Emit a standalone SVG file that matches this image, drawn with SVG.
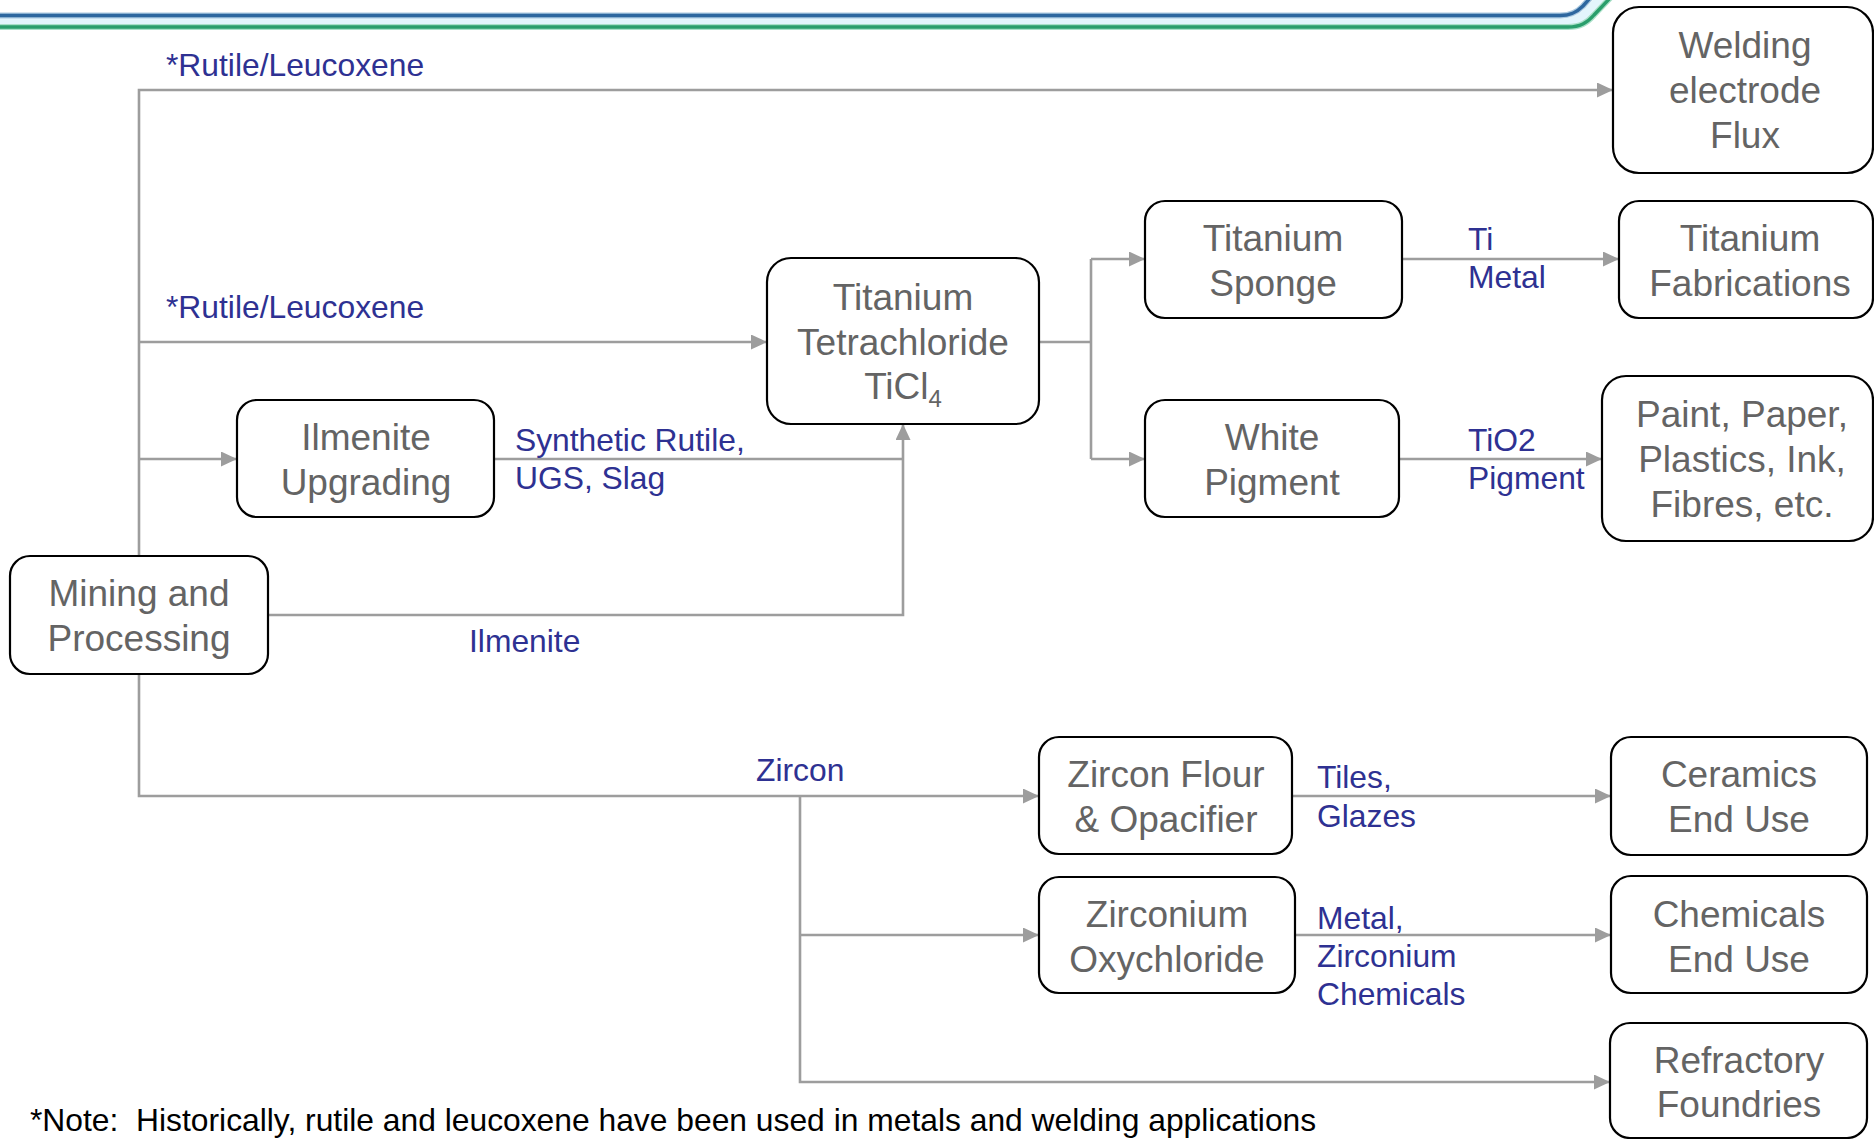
<svg xmlns="http://www.w3.org/2000/svg" width="1874" height="1139" viewBox="0 0 1874 1139">
<style>
.node rect{fill:#fff;stroke:#000;stroke-width:2.2}
.nt{font-family:"Liberation Sans",Arial,sans-serif;font-size:37px;fill:#646464;text-anchor:middle}
.lbl{font-family:"Liberation Sans",Arial,sans-serif;font-size:31.8px;fill:#2E3192}
.note{font-family:"Liberation Sans",Arial,sans-serif;font-size:31.8px;fill:#000;white-space:pre}
.conn path{fill:none;stroke:#9d9d9d;stroke-width:2.6}
</style>
<defs>
<marker id="arr" markerUnits="userSpaceOnUse" markerWidth="16" markerHeight="15" refX="16" refY="7.5" orient="auto">
<path d="M0,0 L16,7.5 L0,15 z" fill="#9d9d9d"/>
</marker>
</defs>
<rect width="1874" height="1139" fill="#fff"/>
<g id="header">
<path d="M-5,21 L1566,21 C1578,21 1584,17 1590,10 L1604,-4" fill="none" stroke="#e3f5fc" stroke-width="10"/>
<path d="M-5,15.5 L1560,15.5 C1571,15.5 1577,12 1583,6 L1591,-3" fill="none" stroke="#a9c8e0" stroke-width="6"/>
<path d="M-5,15.5 L1560,15.5 C1571,15.5 1577,12 1583,6 L1591,-3" fill="none" stroke="#2d679f" stroke-width="3.4"/>
<path d="M-5,27 L1568,27 C1580,27 1587,23 1594,15 L1612,-4" fill="none" stroke="#a9e0c8" stroke-width="6"/>
<path d="M-5,27 L1568,27 C1580,27 1587,23 1594,15 L1612,-4" fill="none" stroke="#2a9e6c" stroke-width="3.4"/>
</g>
<g id="connectors" class="conn">
<path d="M139,556 V90 H1613" marker-end="url(#arr)"/>
<path d="M139,342 H767" marker-end="url(#arr)"/>
<path d="M139,459 H237" marker-end="url(#arr)"/>
<path d="M494,459 H903"/>
<path d="M268,615 H903 V424" marker-end="url(#arr)"/>
<path d="M1039,342 H1091"/>
<path d="M1091,259 V459"/>
<path d="M1091,259 H1145" marker-end="url(#arr)"/>
<path d="M1091,459 H1145" marker-end="url(#arr)"/>
<path d="M1402,259 H1619" marker-end="url(#arr)"/>
<path d="M1399,459 H1602" marker-end="url(#arr)"/>
<path d="M139,674 V796 H1039" marker-end="url(#arr)"/>
<path d="M800,796 V1082 H1610" marker-end="url(#arr)"/>
<path d="M800,935 H1039" marker-end="url(#arr)"/>
<path d="M1292,796 H1611" marker-end="url(#arr)"/>
<path d="M1295,935 H1611" marker-end="url(#arr)"/>
</g>
<g id="labels">
<text class="lbl" x="166" y="76">*Rutile/Leucoxene</text>
<text class="lbl" x="166" y="318">*Rutile/Leucoxene</text>
<text class="lbl" x="515" y="451">Synthetic Rutile,</text>
<text class="lbl" x="515" y="489">UGS, Slag</text>
<text class="lbl" x="469" y="652">Ilmenite</text>
<text class="lbl" x="1468" y="250">Ti</text>
<text class="lbl" x="1468" y="288">Metal</text>
<text class="lbl" x="1468" y="451">TiO2</text>
<text class="lbl" x="1468" y="489">Pigment</text>
<text class="lbl" x="756" y="781">Zircon</text>
<text class="lbl" x="1317" y="788">Tiles,</text>
<text class="lbl" x="1317" y="827">Glazes</text>
<text class="lbl" x="1317" y="929">Metal,</text>
<text class="lbl" x="1317" y="967">Zirconium</text>
<text class="lbl" x="1317" y="1005">Chemicals</text>
</g>
<g id="mining" class="node"><rect x="10" y="556" width="258" height="118" rx="20"/>
<text class="nt" x="139" y="606">Mining and</text><text class="nt" x="139" y="651">Processing</text></g>
<g id="ilmenite-upgrading" class="node"><rect x="237" y="400" width="257" height="117" rx="20"/>
<text class="nt" x="366" y="450">Ilmenite</text><text class="nt" x="366" y="495">Upgrading</text></g>
<g id="ticl4" class="node"><rect x="767" y="258" width="272" height="166" rx="24"/>
<text class="nt" x="903" y="310">Titanium</text><text class="nt" x="903" y="355">Tetrachloride</text>
<text class="nt" x="903" y="399">TiCl<tspan font-size="24" dy="8">4</tspan></text></g>
<g id="titanium-sponge" class="node"><rect x="1145" y="201" width="257" height="117" rx="20"/>
<text class="nt" x="1273" y="251">Titanium</text><text class="nt" x="1273" y="296">Sponge</text></g>
<g id="white-pigment" class="node"><rect x="1145" y="400" width="254" height="117" rx="20"/>
<text class="nt" x="1272" y="450">White</text><text class="nt" x="1272" y="495">Pigment</text></g>
<g id="welding" class="node"><rect x="1613" y="7" width="260" height="166" rx="26"/>
<text class="nt" x="1745" y="58">Welding</text><text class="nt" x="1745" y="103">electrode</text><text class="nt" x="1745" y="148">Flux</text></g>
<g id="titanium-fabrications" class="node"><rect x="1619" y="201" width="254" height="117" rx="20"/>
<text class="nt" x="1750" y="251">Titanium</text><text class="nt" x="1750" y="296">Fabrications</text></g>
<g id="paint" class="node"><rect x="1602" y="376" width="271" height="165" rx="24"/>
<text class="nt" x="1742" y="427">Paint, Paper,</text><text class="nt" x="1742" y="472">Plastics, Ink,</text><text class="nt" x="1742" y="517">Fibres, etc.</text></g>
<g id="zircon-flour" class="node"><rect x="1039" y="737" width="253" height="117" rx="20"/>
<text class="nt" x="1166" y="787">Zircon Flour</text><text class="nt" x="1166" y="832">&amp; Opacifier</text></g>
<g id="zirconium-oxychloride" class="node"><rect x="1039" y="877" width="256" height="116" rx="20"/>
<text class="nt" x="1167" y="927">Zirconium</text><text class="nt" x="1167" y="972">Oxychloride</text></g>
<g id="ceramics" class="node"><rect x="1611" y="737" width="256" height="118" rx="20"/>
<text class="nt" x="1739" y="787">Ceramics</text><text class="nt" x="1739" y="832">End Use</text></g>
<g id="chemicals" class="node"><rect x="1611" y="876" width="256" height="117" rx="20"/>
<text class="nt" x="1739" y="927">Chemicals</text><text class="nt" x="1739" y="972">End Use</text></g>
<g id="refractory" class="node"><rect x="1610" y="1023" width="257" height="115" rx="20"/>
<text class="nt" x="1739" y="1073">Refractory</text><text class="nt" x="1739" y="1117">Foundries</text></g>
<text class="note" x="30" y="1131" xml:space="preserve">*Note:  Historically, rutile and leucoxene have been used in metals and welding applications</text>
</svg>
